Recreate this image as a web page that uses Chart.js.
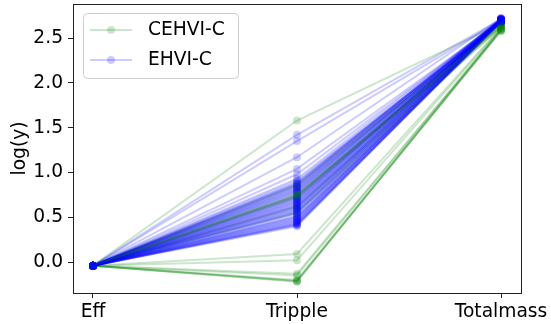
<!DOCTYPE html>
<html>
<head>
<meta charset="utf-8">
<script src="https://cdn.jsdelivr.net/npm/chart.js@4/dist/chart.umd.min.js"></script>
<style>
  body { margin: 0; background: #fff; }
  canvas { display: block; }
</style>
</head>
<body>
<canvas id="grafico" width="551" height="324"></canvas>
<script>
// ejes del gráfico de coordenadas paralelas
const categorias = ['Eff', 'Tripple', 'Totalmass'];
const yTicks = [0.0, 0.5, 1.0, 1.5, 2.0, 2.5];

// CEHVI-C (verde), un valor por corrida
const cehviEff = [-0.04, -0.04, -0.04, -0.04, -0.04, -0.04, -0.04, -0.04, -0.04, -0.04, -0.04, -0.04, -0.04, -0.04, -0.04, -0.04];
const cehviTripple = [1.58, 0.09, 0.02, -0.13, -0.15, -0.20, -0.21, -0.21, -0.22, 0.62, 0.55, 0.86, 0.72, 0.74, 0.76, 0.75];
const cehviTotal = [2.66, 2.62, 2.61, 2.59, 2.60, 2.58, 2.59, 2.58, 2.60, 2.62, 2.63, 2.66, 2.63, 2.64, 2.64, 2.65];

// EHVI-C (azul)
const ehviEff = [-0.04, -0.04, -0.04, -0.04, -0.04, -0.04, -0.04, -0.04, -0.04, -0.04, -0.04, -0.04,
  -0.04, -0.04, -0.04, -0.04, -0.04, -0.04, -0.04, -0.04, -0.04, -0.04, -0.04, -0.04,
  -0.04, -0.04, -0.04, -0.04, -0.04, -0.04, -0.04, -0.04, -0.04, -0.04, -0.04, -0.04,
  -0.04, -0.04, -0.04, -0.04, -0.04, -0.04, -0.04, -0.04, -0.04, -0.04, -0.04, -0.04,
  -0.04, -0.04, -0.04, -0.04, -0.04, -0.04, -0.04, -0.04];
const ehviTripple = [1.42, 1.35, 1.17, 1.04, 0.98, 0.93, 0.91, 0.89, 0.87, 0.85, 0.83, 0.82,
  0.80, 0.79, 0.77, 0.75, 0.73, 0.71, 0.69, 0.67, 0.65, 0.63, 0.61, 0.60,
  0.58, 0.56, 0.54, 0.52, 0.50, 0.48, 0.46, 0.45, 0.43, 0.42, 0.40, 0.41,
  0.88, 0.84, 0.81, 0.78, 0.74, 0.70, 0.66, 0.62, 0.59, 0.55, 0.51, 0.47,
  0.44, 0.42, 0.72, 0.68, 0.64, 0.57, 0.49, 0.86];
const ehviTotal = [2.71, 2.70, 2.72, 2.69, 2.70, 2.71, 2.68, 2.70, 2.69, 2.71, 2.70, 2.68,
  2.69, 2.70, 2.72, 2.69, 2.70, 2.68, 2.71, 2.69, 2.70, 2.68, 2.69, 2.71,
  2.70, 2.68, 2.69, 2.70, 2.67, 2.69, 2.68, 2.70, 2.69, 2.68, 2.70, 2.69,
  2.70, 2.69, 2.71, 2.68, 2.70, 2.69, 2.71, 2.70, 2.68, 2.69, 2.70, 2.71,
  2.69, 2.68, 2.70, 2.71, 2.69, 2.70, 2.68, 2.72];

const verde = 'rgba(0,128,0,0.2)';
const azul = 'rgba(0,0,255,0.2)';

function crearSeries(eff, tripple, total, label, color) {
  return eff.map((e, i) => ({
    label: label,
    data: [{x: 0, y: e}, {x: 1, y: tripple[i]}, {x: 2, y: total[i]}],
    borderColor: color,
    backgroundColor: color,
    borderWidth: 2,
    pointRadius: 4,
    pointBorderWidth: 0,
    pointHoverRadius: 4,
    tension: 0
  }));
}

const seriesVerde = crearSeries(cehviEff, cehviTripple, cehviTotal, 'CEHVI-C', verde);
const seriesAzul = crearSeries(ehviEff, ehviTripple, ehviTotal, 'EHVI-C', azul);

// intercalar corridas (como se pintaron originalmente), las últimas azules quedan encima
const datasets = [];
const paso = (seriesAzul.length - 4) / seriesVerde.length;
let g = 0;
seriesAzul.forEach((d, b) => {
  datasets.push(d);
  while (g < seriesVerde.length && (g + 1) * paso <= b + 1) {
    datasets.push(seriesVerde[g]);
    g++;
  }
});
while (g < seriesVerde.length) datasets.push(seriesVerde[g++]);
// en Chart.js un "order" mayor se pinta antes (debajo)
datasets.forEach((d, k) => { d.order = datasets.length - k; });

const fuente = "'DejaVu Sans', sans-serif";
const tam = 18.67;

// marco completo alrededor del área
const marco = {
  id: 'marco',
  afterDatasetsDraw(chart) {
    const a = chart.chartArea, ctx = chart.ctx;
    ctx.save();
    ctx.strokeStyle = '#222';
    ctx.lineWidth = 1;
    ctx.strokeRect(Math.round(a.left) + 0.5, Math.round(a.top) + 0.5,
      Math.round(a.right - a.left), Math.round(a.bottom - a.top));
    ctx.restore();
  }
};

// leyenda estilo matplotlib (línea + marcador)
const leyenda = {
  id: 'leyenda',
  afterDraw(chart) {
    const ctx = chart.ctx;
    const items = [['CEHVI-C', verde], ['EHVI-C', azul]];
    const x = 83, y = 13, w = 155, h = 65;
    ctx.save();
    ctx.fillStyle = 'rgba(255,255,255,0.8)';
    ctx.strokeStyle = '#ccc';
    ctx.lineWidth = 1;
    ctx.beginPath();
    ctx.roundRect(x + 0.5, y + 0.5, w, h, 4);
    ctx.fill();
    ctx.stroke();
    items.forEach((it, i) => {
      const cy = 30 + i * 30;
      ctx.strokeStyle = it[1];
      ctx.fillStyle = it[1];
      ctx.lineWidth = 2;
      ctx.beginPath();
      ctx.moveTo(90, cy);
      ctx.lineTo(132, cy);
      ctx.stroke();
      ctx.beginPath();
      ctx.arc(111, cy, 4, 0, Math.PI * 2);
      ctx.fill();
      ctx.fillStyle = '#000';
      ctx.font = tam + 'px ' + fuente;
      ctx.textBaseline = 'middle';
      ctx.fillText(it[0], 148, cy);
    });
    ctx.restore();
  }
};

new Chart(document.getElementById('grafico'), {
  type: 'line',
  data: { datasets: datasets },
  options: {
    responsive: false,
    animation: false,
    devicePixelRatio: 1,
    layout: { padding: { top: 3, right: 30, left: 0, bottom: 0 } },
    plugins: { legend: { display: false }, tooltip: { enabled: false } },
    scales: {
      x: {
        type: 'linear',
        min: -0.098,
        max: 2.098,
        afterBuildTicks: s => { s.ticks = categorias.map((c, i) => ({value: i})); },
        afterFit: s => { s.height = 31; s.paddingLeft = 0; s.paddingRight = 0; },
        border: { display: false },
        grid: { drawOnChartArea: false, drawTicks: true, tickLength: 5, color: '#222' },
        ticks: {
          padding: 3,
          color: '#000',
          font: { family: fuente, size: tam },
          callback: v => categorias[v],
          maxRotation: 0
        }
      },
      y: {
        min: -0.345,
        max: 2.88,
        afterBuildTicks: s => { s.ticks = yTicks.map(v => ({value: v})); },
        afterFit: s => { s.width = 73; s.paddingTop = 0; s.paddingBottom = 0; },
        border: { display: false },
        grid: { drawOnChartArea: false, drawTicks: true, tickLength: 5, color: '#222' },
        title: { display: true, text: 'log(y)', color: '#000', font: { family: fuente, size: tam }, padding: { top: 9, bottom: 0 } },
        ticks: {
          padding: 5,
          color: '#000',
          font: { family: fuente, size: tam },
          callback: v => v.toFixed(1)
        }
      }
    }
  },
  plugins: [marco, leyenda]
});
</script>
</body>
</html>
